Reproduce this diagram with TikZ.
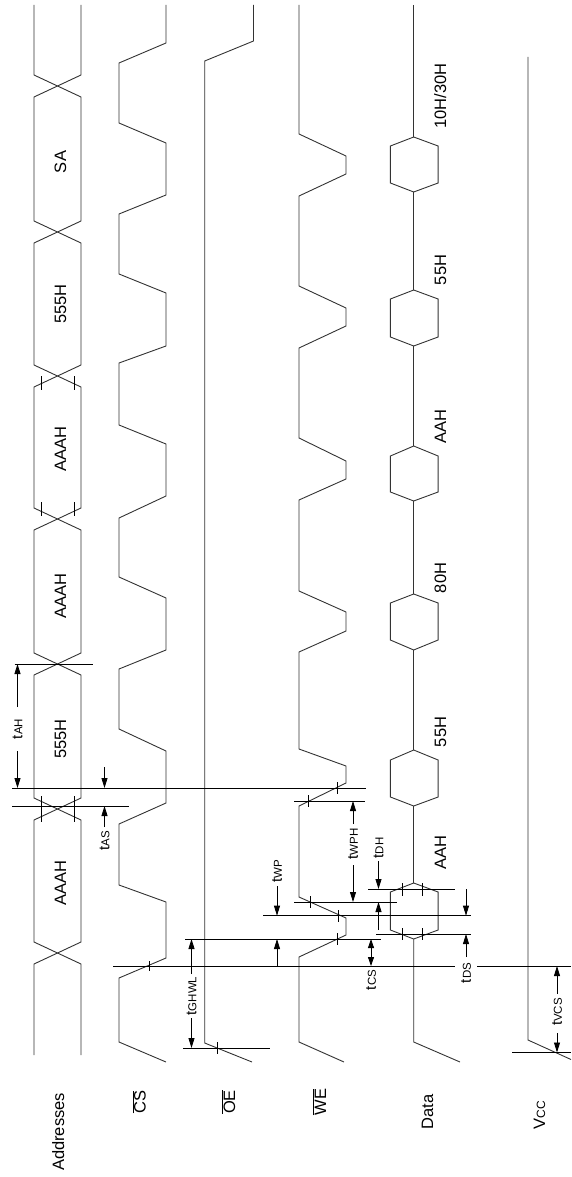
\documentclass[tikz,border=0pt]{standalone}
\usepackage{fontspec}
\setmainfont{Liberation Sans}
\usetikzlibrary{arrows.meta}
\newcommand\tlbl[1]{{\fontsize{15}{15}\selectfont t}{\fontsize{11.5}{12}\selectfont #1}}
\begin{document}
\begin{tikzpicture}[x=1pt,y=-1pt,
  sig/.style={line width=0.9pt, black!80, line join=miter},
  ref/.style={line width=0.8pt, black},
  tck/.style={line width=0.8pt, black},
  arr/.style={line width=0.8pt, -{Triangle[length=10pt,width=6pt]}},
  darr/.style={line width=0.8pt, {Triangle[length=9pt,width=6pt]}-{Triangle[length=9pt,width=6pt]}},
  lab/.style={rotate=90, inner sep=0pt, anchor=base, font=\fontsize{16.5}{18}\selectfont},
  tlab/.style={rotate=90, inner sep=0pt, anchor=center}]
\useasboundingbox (0,0) rectangle (571,1177);

% ---------------- Addresses bus
\draw[sig] (34,5)--(34,75)--(81,97)--(81,221)--(34,243)--(34,365)--(81,387)--(81,508)--(34,530)--(34,653)--(81,675)--(81,798)--(34,820)--(34,942)--(81,964)--(81,1055);
\draw[sig] (81,5)--(81,75)--(34,97)--(34,221)--(81,243)--(81,365)--(34,387)--(34,508)--(81,530)--(81,653)--(34,675)--(34,798)--(81,820)--(81,942)--(34,964)--(34,1055);

% ---------------- CS
\draw[sig] (166,5)--(166,43)--(119,63)--(119,123)--(166,143)--(166,195)--(119,214)--(119,274)--(166,293)--(166,346)--(119,363)--(119,425)--(166,444)--(166,496)--(119,518)--(119,577)--(166,598)--(166,650)--(119,669)--(119,729)--(166,751)--(166,803)--(119,824)--(119,885)--(166,902)--(166,958)--(119,978)--(119,1042)--(166,1062);

% ---------------- OE
\draw[sig] (253.5,5)--(253.5,41)--(204.7,61)--(204.7,1043)--(252,1062);

% ---------------- WE
\draw[sig] (299,5)--(299,134)--(346,156)--(346,174)--(299,196)--(299,286)--(346,308)--(346,326)--(299,348)--(299,438)--(346,461)--(346,479)--(299,500)--(299,591)--(346,612)--(346,631)--(299,652)--(299,749)--(346,766)--(346,783)--(299,806)--(299,897)--(346,918)--(346,935)--(299,957)--(299,1042)--(344,1062);

% ---------------- Data
\foreach \t/\a/\b/\c in {137/146/183/192, 290/299/337/346, 446/456/492/501, 594/603/640/650, 750/760/797/806, 883/892/930/939}
  \draw[sig] (413.7,\t)--(438.1,\a)--(438.1,\b)--(413.7,\c)--(390.4,\b)--(390.4,\a)--cycle;
\foreach \a/\b in {5/137, 192/290, 346/446, 501/594, 650/750, 806/883}
  \draw[sig] (413.7,\a)--(413.7,\b);
\draw[sig] (413.7,939)--(413.7,1042)--(460,1062);

% ---------------- Vcc
\draw[sig] (528,57)--(528,1040)--(571,1059.5);

% ---------------- reference lines
\draw[ref] (14.6,664)--(93,664);
\draw[ref] (12,788)--(366,788);
\draw[ref] (12,806)--(129,806);
\draw[ref] (294,801)--(365,801);
\draw[ref] (294,902)--(397,902);
\draw[ref] (368,889)--(455,889);
\draw[ref] (263,915.7)--(471,915.7);
\draw[ref] (376,934)--(471,934);
\draw[ref] (185,939)--(381,939);
\draw[ref] (113,966)--(455,966);
\draw[ref] (477,966)--(571,966);
\draw[ref] (183,1048)--(270,1048);
\draw[ref] (512,1052.5)--(571,1052.5);

% ---------------- ticks
\foreach \x/\a/\b in {41.5/376/390, 74/376/390, 41.5/502/516, 74/502/516, 41.5/796/822, 74/796/822,
   149/961/971, 217/1042/1054, 337/782/794, 308/795/807, 310/896/908, 338/910/922, 337/933/945,
   402/883/896, 422/883/896, 402/928/940, 422/928/940}
  \draw[tck] (\x,\a)--(\x,\b);

% ---------------- dimension arrows
\draw[arr] (17.5,707)--(17.5,664);
\draw[arr] (17.5,751)--(17.5,788);
\draw[arr] (104.5,767)--(104.5,788);
\draw[arr] (104.5,827)--(104.5,806);
\draw[arr] (353,824)--(353,801);
\draw[arr] (353,865)--(353,902);
\draw[arr] (277,886)--(277,915.7);
\draw[arr] (277,966)--(277,939);
\draw[arr] (378.5,861)--(378.5,889);
\draw[arr] (378.5,930)--(378.5,902);
\draw[arr] (466,889)--(466,915.7);
\draw[arr] (466,957)--(466,934);
\draw[darr] (371,939)--(371,966);
\draw[arr] (191.5,974)--(191.5,939);
\draw[arr] (191.5,1018)--(191.5,1048);
\draw[arr] (557,994)--(557,966);
\draw[arr] (557,1033)--(557,1052.5);

% ---------------- timing labels
\node[tlab] (tAH) at (17.5,729) {\tlbl{AH}};
\node[tlab] (tAS) at (104.5,841) {\tlbl{AS}};
\node[tlab] (tWPH) at (353,844) {\tlbl{WPH}};
\node[tlab] (tWP) at (277,871) {\tlbl{WP}};
\node[tlab] (tDH) at (378.5,848) {\tlbl{DH}};
\node[tlab] (tCS) at (371,980) {\tlbl{CS}};
\node[tlab] (tDS) at (466,973) {\tlbl{DS}};
\node[tlab] (tGHWL) at (191.5,996) {\tlbl{GHWL}};
\node[tlab] (tVCS) at (557,1012) {\tlbl{VCS}};

% ---------------- address labels
\node[lab] (a1) at (66,162) {SA};
\node[lab] (a2) at (66,304) {555H};
\node[lab] (a3) at (66,449) {AAAH};
\node[lab] (a4) at (66,596) {AAAH};
\node[lab] (a5) at (66,739) {555H};
\node[lab] (a6) at (66,883) {AAAH};

% ---------------- data labels
\node[lab] (d1) at (446,96) {10H/30H};
\node[lab] (d2) at (446,270) {55H};
\node[lab] (d3) at (446,427) {AAH};
\node[lab] (d4) at (446,578) {80H};
\node[lab] (d5) at (446,732) {55H};
\node[lab] (d6) at (446,853) {AAH};

% ---------------- signal names
\node[lab] (nAddr) at (64,1132) {Addresses};
\node[lab] (nCS) at (145.7,1102) {$\overline{\hbox{CS}}$};
\node[lab] (nOE) at (235,1102) {$\overline{\hbox{OE}}$};
\node[lab] (nWE) at (326,1102) {$\overline{\hbox{WE}}$};
\node[lab] (nData) at (433,1112) {Data};
\node[lab] (nVcc) at (545,1115) {V{\fontsize{12}{12}\selectfont CC}};
\end{tikzpicture}
\end{document}
